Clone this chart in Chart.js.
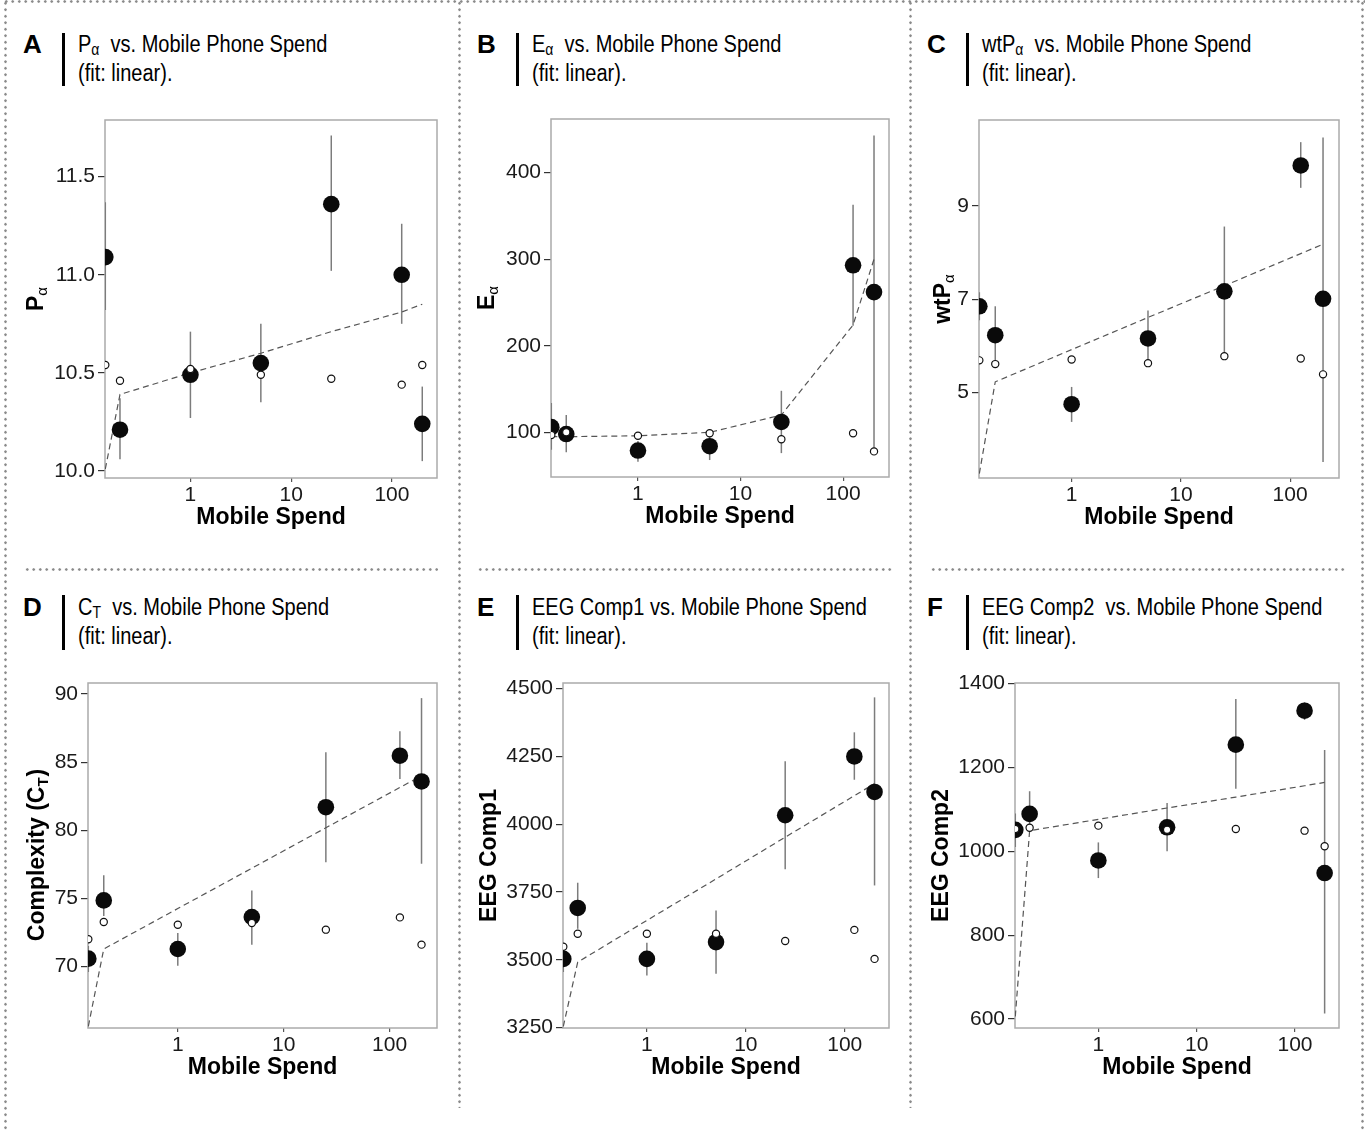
<!DOCTYPE html>
<html>
<head>
<meta charset="utf-8">
<script src="https://cdn.jsdelivr.net/npm/chart.js@4.4.1/dist/chart.umd.min.js"></script>
<style>
  body { margin: 0; background: #fff; width: 1366px; height: 1130px; position: relative; overflow: hidden;
         font-family: 'Liberation Sans', Arial, sans-serif; }
  canvas { position: absolute; }
  .dots-h { position: absolute; height: 3px;
            background: radial-gradient(circle, #8a8a8a 0 1px, transparent 1.5px) 0 0 / 6.5px 3px repeat-x; }
  .dots-v { position: absolute; width: 3px;
            background: radial-gradient(circle, #8a8a8a 0 1px, transparent 1.5px) 0 0 / 3px 6.5px repeat-y; }
  .letter { position: absolute; font-weight: bold; font-size: 26px; line-height: 26px; color: #000; }
  .bar { position: absolute; width: 3px; background: #000; }
  .ttl { position: absolute; font-size: 23px; line-height: 28.5px; color: #000; white-space: pre;
         transform: scaleX(0.87); transform-origin: 0 0; }
  .ttl sub { font-size: 70%; vertical-align: -0.2em; line-height: 0; }
</style>
</head>
<body>
<script>
// x values shared by all panels (mobile spend groups)
const spend = [0.143, 0.2, 1, 5, 25, 125, 200];
const xTicks = [1, 10, 100];

// A: P alpha
const paMean = [11.09, 10.21, 10.49, 10.55, 11.36, 11.00, 10.24];
const paLow  = [10.82, 10.06, 10.27, 10.35, 11.02, 10.75, 10.05];
const paHigh = [11.37, 10.37, 10.71, 10.75, 11.71, 11.26, 10.43];
const paNull = [10.54, 10.46, 10.52, 10.49, 10.47, 10.44, 10.54];
const paFit  = [10.01, 10.39, 10.50, 10.60, 10.71, 10.81, 10.85];
const paTicks = [10, 10.5, 11, 11.5];

// B: E alpha
const eaMean = [106, 98, 79, 84, 112, 293, 262];
const eaLow  = [80, 77, 66, 68, 76, 223, 80];
const eaHigh = [134, 120, 90, 100, 148, 363, 443];
const eaNull = [97, 100, 96, 99, 92, 99, 78];
const eaFit  = [95, 95, 96, 100, 120, 224, 300];
const eaTicks = [100, 200, 300, 400];

// C: wtP alpha
const wtMean = [6.85, 6.23, 4.75, 6.16, 7.17, 9.87, 7.01];
const wtLow  = [6.55, 5.69, 4.37, 5.62, 5.75, 9.39, 3.51];
const wtHigh = [7.15, 6.85, 5.12, 6.76, 8.56, 10.37, 10.47];
const wtNull = [5.69, 5.61, 5.71, 5.63, 5.78, 5.73, 5.39];
const wtFit  = [3.26, 5.23, 5.92, 6.61, 7.29, 7.98, 8.18];
const wtTicks = [5, 7, 9];

// D: complexity C_T
const ctMean = [70.57, 74.85, 71.28, 73.63, 81.69, 85.47, 83.58];
const ctLow  = [69.6, 73.7, 70.05, 71.6, 77.65, 83.77, 77.54];
const ctHigh = [71.5, 76.7, 72.45, 75.58, 85.72, 87.26, 89.7];
const ctNull = [72.0, 73.26, 73.06, 73.19, 72.7, 73.6, 71.6];
const ctFit  = [65.6, 71.28, 74.25, 77.21, 80.18, 83.14, 84.0];
const ctTicks = [70, 75, 80, 85, 90];

// E: EEG Comp1
const c1Mean = [3503, 3691, 3503, 3565, 4033, 4250, 4119];
const c1Low  = [3455, 3614, 3442, 3448, 3834, 4164, 3774];
const c1High = [3551, 3784, 3563, 3682, 4232, 4339, 4468];
const c1Null = [3548, 3596, 3596, 3596, 3569, 3610, 3503];
const c1Fit  = [3254, 3491, 3645, 3798, 3952, 4105, 4150];
const c1Ticks = [3250, 3500, 3750, 4000, 4250, 4500];

// F: EEG Comp2
const c2Mean = [1051, 1089, 978, 1057, 1254, 1335, 948];
const c2Low  = [1010, 1050, 936, 1000, 1149, 1313, 613];
const c2High = [1090, 1143, 1021, 1115, 1363, 1355, 1241];
const c2Null = [1053, 1056, 1061, 1051, 1053, 1049, 1012];
const c2Fit  = [606, 1049, 1076, 1103, 1129, 1156, 1164];
const c2Ticks = [600, 800, 1000, 1200, 1400];

const FAMILY = "'Liberation Sans', Arial, sans-serif";
const X_MIN = 0.142, X_MAX = 280;

const panels = [
  { letter: 'A', title: 'P<sub>α</sub>  vs. Mobile Phone Spend', col: 0, row: 0,
    box: { l: 105, t: 120, r: 437, b: 478 }, yMin: 9.964, yMax: 11.789, yTitleX: 35,
    yTitle: [{ t: 'P' }, { t: 'α', sub: true }],
    mean: paMean, low: paLow, high: paHigh, nul: paNull, fit: paFit, ticks: paTicks, fmt: v => v.toFixed(1) },
  { letter: 'B', title: 'E<sub>α</sub>  vs. Mobile Phone Spend', col: 1, row: 0,
    box: { l: 551, t: 119, r: 889, b: 477 }, yMin: 48.4, yMax: 462, yTitleX: 486,
    yTitle: [{ t: 'E' }, { t: 'α', sub: true }],
    mean: eaMean, low: eaLow, high: eaHigh, nul: eaNull, fit: eaFit, ticks: eaTicks, fmt: v => String(v) },
  { letter: 'C', title: 'wtP<sub>α</sub>  vs. Mobile Phone Spend', col: 2, row: 0,
    box: { l: 979, t: 120, r: 1339, b: 478 }, yMin: 3.167, yMax: 10.845, yTitleX: 942,
    yTitle: [{ t: 'wtP' }, { t: 'α', sub: true }],
    mean: wtMean, low: wtLow, high: wtHigh, nul: wtNull, fit: wtFit, ticks: wtTicks, fmt: v => String(v) },
  { letter: 'D', title: 'C<sub>T</sub>  vs. Mobile Phone Spend', col: 0, row: 1,
    box: { l: 88, t: 683, r: 437, b: 1028 }, yMin: 65.48, yMax: 90.81, yTitleX: 36,
    yTitle: [{ t: 'Complexity (C' }, { t: 'T', sub: true, bold: true }, { t: ')' }],
    mean: ctMean, low: ctLow, high: ctHigh, nul: ctNull, fit: ctFit, ticks: ctTicks, fmt: v => String(v) },
  { letter: 'E', title: 'EEG Comp1 vs. Mobile Phone Spend', col: 1, row: 1,
    box: { l: 563, t: 683, r: 889, b: 1028 }, yMin: 3248, yMax: 4521, yTitleX: 488,
    yTitle: [{ t: 'EEG Comp1' }],
    mean: c1Mean, low: c1Low, high: c1High, nul: c1Null, fit: c1Fit, ticks: c1Ticks, fmt: v => String(v) },
  { letter: 'F', title: 'EEG Comp2  vs. Mobile Phone Spend', col: 2, row: 1,
    box: { l: 1015, t: 683, r: 1339, b: 1028 }, yMin: 578.6, yMax: 1401, yTitleX: 940,
    yTitle: [{ t: 'EEG Comp2' }],
    mean: c2Mean, low: c2Low, high: c2High, nul: c2Null, fit: c2Fit, ticks: c2Ticks, fmt: v => String(v) }
];

const headerX = [{ letter: 23, bar: 62, text: 78 }, { letter: 477, bar: 516, text: 532 }, { letter: 927, bar: 966, text: 982 }];
const headerY = [{ letter: 31, bar: 33, barH: 53, text: 30 }, { letter: 594, bar: 595, barH: 55, text: 593 }];

// dotted frame and separators
function dots(cls, l, t, len) {
  const d = document.createElement('div');
  d.className = cls;
  d.style.left = l + 'px';
  d.style.top = t + 'px';
  if (cls === 'dots-h') d.style.width = len + 'px'; else d.style.height = len + 'px';
  document.body.appendChild(d);
}
dots('dots-h', 3, 0, 1362);
dots('dots-v', 4, 0, 1130);
dots('dots-v', 1361, 0, 1130);
dots('dots-v', 458, 0, 1108);
dots('dots-v', 909, 0, 1108);
dots('dots-h', 24, 568, 414);
dots('dots-h', 477, 568, 416);
dots('dots-h', 930, 568, 416);

function drawYTitle(ctx, parts, cx, cy) {
  ctx.save();
  ctx.translate(cx, cy);
  ctx.rotate(-Math.PI / 2);
  ctx.fillStyle = '#000';
  ctx.textBaseline = 'alphabetic';
  const fonts = parts.map(p => p.sub ? (p.bold ? 'bold ' : '') + '15px ' + FAMILY : 'bold 23px ' + FAMILY);
  const widths = parts.map((p, i) => { ctx.font = fonts[i]; return ctx.measureText(p.t).width; });
  let x = -widths.reduce((a, b) => a + b, 0) / 2;
  parts.forEach((p, i) => {
    ctx.font = fonts[i];
    ctx.fillText(p.t, x, p.sub ? 12 : 8);
    x += widths[i] + (p.sub ? 1 : 0);
  });
  ctx.restore();
}

const tickFont = { family: FAMILY, size: 21 };

panels.forEach(p => {
  const hx = headerX[p.col], hy = headerY[p.row];
  const letter = document.createElement('div');
  letter.className = 'letter';
  letter.textContent = p.letter;
  letter.style.left = hx.letter + 'px';
  letter.style.top = hy.letter + 'px';
  document.body.appendChild(letter);
  const bar = document.createElement('div');
  bar.className = 'bar';
  bar.style.left = hx.bar + 'px';
  bar.style.top = hy.bar + 'px';
  bar.style.height = hy.barH + 'px';
  document.body.appendChild(bar);
  const ttl = document.createElement('div');
  ttl.className = 'ttl';
  ttl.innerHTML = p.title + '<br>(fit: linear).';
  ttl.style.left = hx.text + 'px';
  ttl.style.top = hy.text + 'px';
  document.body.appendChild(ttl);

  const padL = 110, padT = 30, padR = 10, padB = 70;
  const canvas = document.createElement('canvas');
  const w = p.box.r - p.box.l + padL + padR;
  const h = p.box.b - p.box.t + padT + padB;
  canvas.width = w; canvas.height = h;
  canvas.style.left = (p.box.l - padL) + 'px';
  canvas.style.top = (p.box.t - padT) + 'px';
  document.body.appendChild(canvas);

  const pts = arr => arr.map((v, i) => ({ x: spend[i], y: v }));

  const panelPlugin = {
    id: 'panelDecor',
    beforeDatasetsDraw(chart) {
      const { ctx, chartArea: a, scales: { x, y } } = chart;
      ctx.save();
      ctx.strokeStyle = '#ababab';
      ctx.lineWidth = 1.5;
      ctx.strokeRect(a.left, a.top, a.right - a.left, a.bottom - a.top);
      ctx.beginPath();
      ctx.rect(a.left, a.top, a.right - a.left, a.bottom - a.top);
      ctx.clip();
      ctx.strokeStyle = '#7c7c7c';
      ctx.lineWidth = 1.5;
      p.low.forEach((lo, i) => {
        const px = x.getPixelForValue(spend[i]);
        ctx.beginPath();
        ctx.moveTo(px, y.getPixelForValue(lo));
        ctx.lineTo(px, y.getPixelForValue(p.high[i]));
        ctx.stroke();
      });
      ctx.restore();
    },
    afterDraw(chart) {
      const a = chart.chartArea;
      drawYTitle(chart.ctx, p.yTitle, p.yTitleX - (p.box.l - padL), (a.top + a.bottom) / 2);
    }
  };

  new Chart(canvas, {
    type: 'scatter',
    data: {
      datasets: [
        { data: pts(p.nul), pointRadius: 3.6, pointBorderWidth: 1.2, pointBackgroundColor: '#fff',
          pointBorderColor: '#111', clip: 0 },
        { data: pts(p.mean), pointRadius: 8.3, pointBorderWidth: 0, pointBackgroundColor: '#0a0a0a',
          pointBorderColor: '#0a0a0a', clip: 0 },
        { data: pts(p.fit), showLine: true, pointRadius: 0, borderColor: '#555', borderWidth: 1.2,
          borderDash: [6, 4], clip: 0 }
      ]
    },
    options: {
      responsive: false,
      animation: false,
      events: [],
      layout: { padding: { left: 0, right: padR, top: padT, bottom: 0 } },
      plugins: { legend: { display: false }, tooltip: { enabled: false } },
      scales: {
        x: {
          type: 'logarithmic', min: X_MIN, max: X_MAX,
          afterBuildTicks: s => { s.ticks = xTicks.map(v => ({ value: v })); },
          afterFit: s => { s.height = padB; },
          ticks: { callback: v => String(v), font: tickFont, color: '#1a1a1a', padding: 1,
                   maxRotation: 0, autoSkip: false },
          grid: { drawOnChartArea: false, tickLength: 4, color: '#555', lineWidth: 1.2 },
          border: { display: false },
          title: { display: true, text: 'Mobile Spend', color: '#000',
                   font: { family: FAMILY, size: 23, weight: 'bold' }, padding: { top: 0, bottom: 17 } }
        },
        y: {
          type: 'linear', min: p.yMin, max: p.yMax,
          afterBuildTicks: s => { s.ticks = p.ticks.map(v => ({ value: v })); },
          afterFit: s => { s.width = padL; },
          ticks: { callback: v => p.fmt(v), font: tickFont, color: '#1a1a1a', padding: 3 },
          grid: { drawOnChartArea: false, tickLength: 7, color: '#333', lineWidth: 1.2 },
          border: { display: false }
        }
      }
    },
    plugins: [panelPlugin]
  });
});
</script>
</body>
</html>
